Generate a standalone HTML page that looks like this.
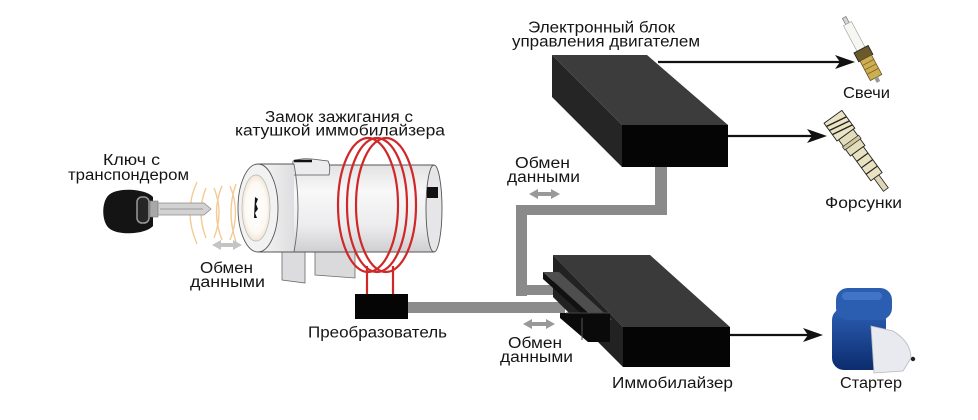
<!DOCTYPE html>
<html><head><meta charset="utf-8"><style>
html,body{margin:0;padding:0;background:#fff;}
svg{display:block;}
text{font-family:"Liberation Sans","DejaVu Sans",sans-serif;font-size:15.5px;fill:#151515;}
</style></head><body>
<svg width="978" height="420" viewBox="0 0 978 420" xmlns="http://www.w3.org/2000/svg">
<defs>
<linearGradient id="cyl" x1="0" y1="0" x2="0" y2="1">
<stop offset="0" stop-color="#e2e2e4"/><stop offset="0.3" stop-color="#f8f8f8"/><stop offset="0.7" stop-color="#ececee"/><stop offset="1" stop-color="#cfcfd2"/>
</linearGradient>
<linearGradient id="head" x1="0" y1="0" x2="1" y2="0">
<stop offset="0" stop-color="#f6f6f6"/><stop offset="1" stop-color="#dedee0"/>
</linearGradient>
<radialGradient id="face" cx="0.5" cy="0.5" r="0.5">
<stop offset="0" stop-color="#ffffff"/><stop offset="0.75" stop-color="#fdfaf5"/><stop offset="1" stop-color="#f1e6d6"/>
</radialGradient>
<linearGradient id="blue" x1="0" y1="0" x2="0" y2="1">
<stop offset="0" stop-color="#2c5fb5"/><stop offset="1" stop-color="#0c2c6e"/>
</linearGradient>
</defs>
<rect width="978" height="420" fill="#fff"/>

<!-- waves -->
<g fill="none" stroke="#f0b568" stroke-width="1.4" opacity="0.7">
<path d="M197 182 Q183 212 197 244"/>
<path d="M206 188 Q196 212 206 238"/>
<path d="M214 188 Q224 212 214 238"/>
<path d="M222 186 Q211 212 222 240"/>
<path d="M230 186 Q241 212 230 240"/>
<path d="M236 184 Q226 212 236 242"/>
</g>

<!-- key -->
<path d="M153 197 C146 189 120 187 110 194 C101 200 101 223 110 229 C120 236 146 234 153 226 Z" fill="#141414"/>
<rect x="137" y="197" width="12" height="26" rx="5" fill="#262626" stroke="#9a9a9a" stroke-width="1.5"/>
<rect x="150" y="201" width="8" height="16" fill="#a8a8a8" stroke="#777" stroke-width="0.6"/>
<path d="M158 203 L204 203 L211 209 L204 215 L158 215 Z" fill="#d2d2d2" stroke="#8a8a8a" stroke-width="0.8"/>
<line x1="160" y1="209" x2="203" y2="209" stroke="#999" stroke-width="1"/>

<!-- left double arrow -->
<polygon points="212,245 221,240 221,243 233,243 233,240 242,245 233,250 233,247 221,247 221,250" fill="#c4c4c4"/>

<!-- lock legs -->
<polygon points="282,247 305,247 305,283 282,280" fill="#dcdcde" stroke="#6a6a6a" stroke-width="0.8"/>
<polygon points="315,240 337,240 337,232 355,232 355,278 315,275" fill="#dadadc" stroke="#6a6a6a" stroke-width="0.8"/>
<rect x="337" y="229" width="16" height="4" fill="#111"/>

<!-- lock body -->
<rect x="292" y="165" width="142" height="87" fill="url(#cyl)"/>
<ellipse cx="434" cy="208.5" rx="8" ry="43.5" fill="#e6e6e8" stroke="#555" stroke-width="0.9"/>
<line x1="292" y1="165" x2="434" y2="165" stroke="#555" stroke-width="0.9"/>
<line x1="292" y1="252" x2="434" y2="252" stroke="#555" stroke-width="0.9"/>
<rect x="427" y="187" width="11" height="11" fill="#111"/>
<!-- top tab -->
<path d="M292 175 L293 161 Q300 158 312 159 L328 161 Q331 166 329 175 Z" fill="#ececee" stroke="#555" stroke-width="0.8"/>
<line x1="294" y1="161" x2="312" y2="161" stroke="#111" stroke-width="2.5"/>
<!-- head -->
<rect x="258" y="164" width="36" height="88" fill="url(#head)"/>
<path d="M294 164 Q302 208 294 252" fill="none" stroke="#666" stroke-width="0.9"/>
<line x1="258" y1="164" x2="294" y2="164" stroke="#555" stroke-width="0.9"/>
<line x1="258" y1="252" x2="294" y2="252" stroke="#555" stroke-width="0.9"/>
<ellipse cx="258" cy="208" rx="20" ry="44" fill="#f2f2f2" stroke="#555" stroke-width="0.9"/>
<ellipse cx="256" cy="208" rx="14" ry="33" fill="url(#face)" stroke="#b5b5b5" stroke-width="0.7"/>
<path d="M255 197 L258 199 L256 204 L258 209 L255 213 L257 218 L254 218 Z" fill="#111"/>

<!-- coil -->
<g fill="none" stroke="#d02828" stroke-width="2.2">
<ellipse cx="368" cy="205" rx="30" ry="67"/>
<ellipse cx="377" cy="205" rx="30" ry="67"/>
<ellipse cx="386" cy="205" rx="30" ry="67"/>
<line x1="367" y1="266" x2="367" y2="295"/>
<line x1="393" y1="266" x2="393" y2="295"/>
</g>

<!-- converter -->
<rect x="355" y="294" width="53" height="25" fill="#050505"/>
<!-- gray wires -->
<rect x="408" y="302" width="157" height="11" fill="#8c8c8c"/>
<rect x="655" y="166" width="12" height="49" fill="#8a8a8a"/>
<rect x="516" y="205" width="151" height="10" fill="#8a8a8a"/>
<rect x="516" y="205" width="11" height="91" fill="#8a8a8a"/>
<rect x="516" y="285" width="46" height="10" fill="#8a8a8a"/>

<!-- ECU -->
<polygon points="552,55 647,55 728,125 622,125" fill="#3c3c3c"/>
<polygon points="552,55 622,125 622,167 552,97" fill="#252525"/>
<rect x="622" y="125" width="106" height="42" fill="#050505"/>

<!-- Immobilizer -->
<polygon points="553,255 650,255 730,327 623,327" fill="#3a3a3a"/>
<polygon points="553,255 623,327 623,367 553,297" fill="#222"/>
<rect x="623" y="327" width="107" height="40" fill="#050505"/>
<polygon points="543,272 559,272 612,320 596,320" fill="#4e4e4e"/>
<polygon points="543,272 596,320 596,327 543,279" fill="#111"/>
<polygon points="560,313 610,313 610,342 588,342 560,318" fill="#0a0a0a"/>
<line x1="582" y1="318" x2="582" y2="340" stroke="#555" stroke-width="1"/>
<line x1="566" y1="313" x2="610" y2="313" stroke="#444" stroke-width="1"/>

<!-- double arrows -->
<polygon points="529,194 538,189 538,192 551,192 551,189 560,194 551,199 551,196 538,196 538,199" fill="#999"/>
<polygon points="523,324 532,319 532,322 546,322 546,319 555,324 546,329 546,326 532,326 532,329" fill="#999"/>

<!-- black arrows -->
<g stroke="#111" stroke-width="2.2">
<line x1="658" y1="62" x2="842" y2="62"/>
<line x1="728" y1="136" x2="814" y2="136"/>
<line x1="730" y1="335" x2="810" y2="335"/>
</g>
<g fill="#111">
<polygon points="855,62 835,55 840,62 835,69"/>
<polygon points="827,136 807,129 812,136 807,143"/>
<polygon points="823,335 803,328 808,335 803,342"/>
</g>

<!-- spark plug -->
<g transform="translate(862,51) rotate(-28)">
<rect x="-2" y="-38" width="4" height="7" fill="#d4d4d4" stroke="#777" stroke-width="0.7"/>
<rect x="-4.5" y="-31" width="9" height="30" fill="#f6f6f2" stroke="#aaa" stroke-width="0.7"/>
<rect x="-8" y="-2" width="16" height="10" fill="#6a5a2c" stroke="#222" stroke-width="0.9"/>
<rect x="-6.5" y="8" width="13" height="22" fill="#cdae52" stroke="#6b5520" stroke-width="0.8"/>
<g stroke="#7a6126" stroke-width="0.8"><line x1="-6" y1="13" x2="6" y2="13"/><line x1="-6" y1="18" x2="6" y2="18"/><line x1="-6" y1="23" x2="6" y2="23"/></g>
<rect x="-2" y="30" width="4" height="5" fill="#999"/>
</g>

<!-- injector -->
<g transform="translate(860,154) rotate(-36)">
<rect x="-11" y="-46" width="22" height="22" fill="#ebe4c4" stroke="#222" stroke-width="0.9"/>
<g stroke="#222" stroke-width="1.4"><line x1="-11" y1="-42" x2="11" y2="-38"/><line x1="-11" y1="-37" x2="11" y2="-33"/><line x1="-11" y1="-32" x2="11" y2="-28"/></g>
<rect x="-9" y="-24" width="18" height="20" fill="#e4ddbc" stroke="#222" stroke-width="0.9"/>
<rect x="-10" y="-16" width="20" height="4" fill="#cfc79f" stroke="#222" stroke-width="0.7"/>
<rect x="-7" y="-4" width="14" height="32" fill="#e9e2c2" stroke="#222" stroke-width="0.9"/>
<g stroke="#222" stroke-width="1.2"><line x1="-7" y1="4" x2="7" y2="4"/><line x1="-7" y1="12" x2="7" y2="12"/><line x1="-7" y1="20" x2="7" y2="20"/></g>
<rect x="-3" y="28" width="6" height="16" fill="#ddd6b6" stroke="#222" stroke-width="0.8"/>
</g>

<!-- starter -->
<rect x="832" y="308" width="54" height="62" rx="12" fill="url(#blue)"/>
<rect x="836" y="288" width="56" height="32" rx="12" fill="#2b5db0"/>
<rect x="842" y="292" width="40" height="8" rx="4" fill="#4a7fd0" opacity="0.7"/>
<path d="M871 326 L893 331 Q911 342 911 358 L903 371 L874 373 Z" fill="#e8eaf0" stroke="#b5b8c0" stroke-width="0.8"/>
<circle cx="913" cy="359" r="2.2" fill="#222"/>

<!-- labels -->
<text x="528" y="32.5" textLength="147" lengthAdjust="spacingAndGlyphs">Электронный блок</text>
<text x="512" y="46.5" textLength="188" lengthAdjust="spacingAndGlyphs">управления двигателем</text>
<text x="843" y="98" textLength="47" lengthAdjust="spacingAndGlyphs">Свечи</text>
<text x="825" y="208" textLength="77" lengthAdjust="spacingAndGlyphs">Форсунки</text>
<text x="840" y="388" textLength="62" lengthAdjust="spacingAndGlyphs">Стартер</text>
<text x="612" y="388" textLength="121" lengthAdjust="spacingAndGlyphs">Иммобилайзер</text>
<text x="508" y="348" textLength="54" lengthAdjust="spacingAndGlyphs">Обмен</text>
<text x="500" y="362" textLength="73" lengthAdjust="spacingAndGlyphs">данными</text>
<text x="515" y="168" textLength="55" lengthAdjust="spacingAndGlyphs">Обмен</text>
<text x="507" y="182" textLength="73" lengthAdjust="spacingAndGlyphs">данными</text>
<text x="200" y="273" textLength="53" lengthAdjust="spacingAndGlyphs">Обмен</text>
<text x="190" y="287" textLength="75" lengthAdjust="spacingAndGlyphs">данными</text>
<text x="103" y="165" textLength="57" lengthAdjust="spacingAndGlyphs">Ключ с</text>
<text x="68" y="180" textLength="121" lengthAdjust="spacingAndGlyphs">транспондером</text>
<text x="265" y="122" textLength="148" lengthAdjust="spacingAndGlyphs">Замок зажигания с</text>
<text x="235" y="135.5" textLength="210" lengthAdjust="spacingAndGlyphs">катушкой иммобилайзера</text>
<text x="308" y="337.5" textLength="139" lengthAdjust="spacingAndGlyphs">Преобразователь</text>
</svg>
</body></html>
